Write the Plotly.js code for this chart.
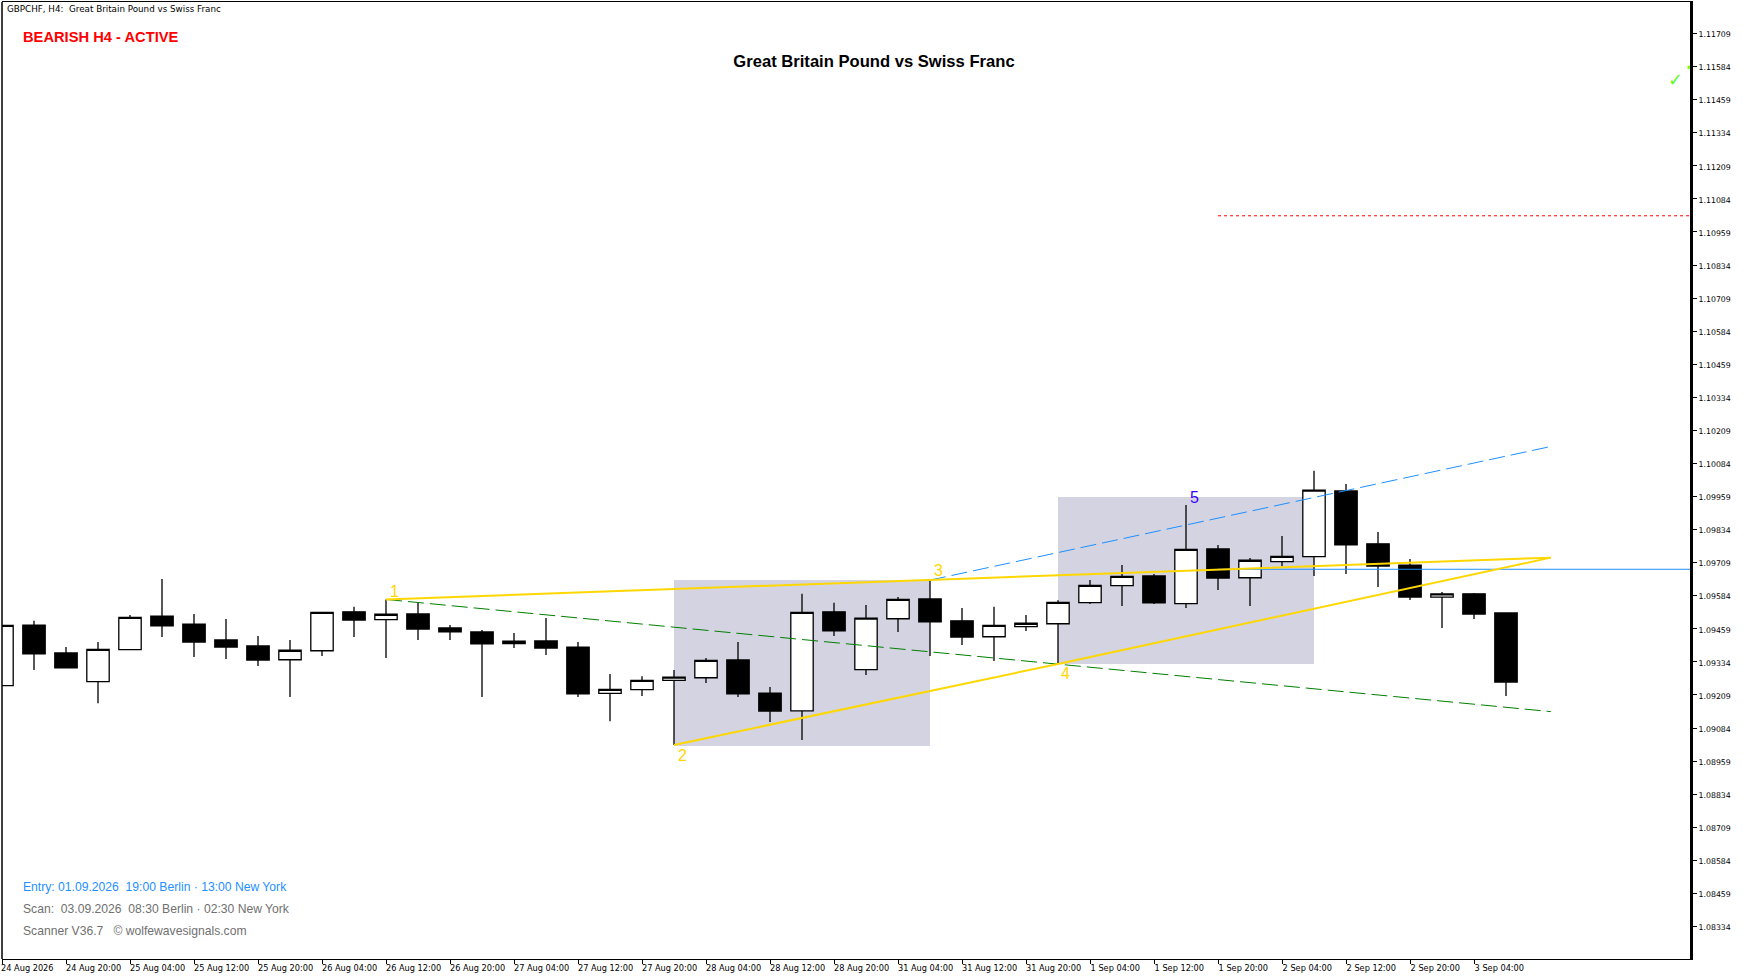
<!DOCTYPE html>
<html>
<head>
<meta charset="utf-8">
<script src="https://cdn.plot.ly/plotly-3.0.1.min.js"></script>
<style>
  html, body { margin: 0; padding: 0; background: #fff; }
  #chart { width: 1743px; height: 980px; }
</style>
</head>
<body>
<div id="chart"></div>
<script>
// Candles
const openPrices = [1.09244, 1.09473, 1.09368, 1.09259, 1.0938, 1.09507, 1.09477, 1.09417, 1.09394, 1.09342, 1.09376, 1.09523,
  1.09494, 1.09515, 1.09462, 1.09447, 1.09403, 1.09413, 1.0939, 1.09215, 1.09229, 1.09264, 1.09274, 1.09341,
  1.09216, 1.09149, 1.09523, 1.09305, 1.09497, 1.09572, 1.09489, 1.09429, 1.09467, 1.09478, 1.09558, 1.09622,
  1.09659, 1.09554, 1.09761, 1.09652, 1.09713, 1.09732, 1.0998, 1.0978, 1.097, 1.09579, 1.09591, 1.09519];
const highPrices = [1.09472, 1.09489, 1.0939, 1.09409, 1.09511, 1.09647, 1.09515, 1.09496, 1.09432, 1.09417, 1.09521, 1.09542,
  1.0957, 1.09557, 1.09473, 1.09454, 1.09443, 1.095, 1.09409, 1.09288, 1.0928, 1.09303, 1.09349, 1.09409,
  1.09239, 1.09591, 1.09557, 1.09549, 1.09579, 1.09643, 1.09538, 1.09542, 1.09511, 1.09567, 1.09643, 1.097,
  1.09666, 1.09927, 1.09776, 1.09727, 1.0981, 1.10056, 1.10006, 1.09825, 1.09723, 1.09598, 1.09594, 1.09519];
const lowPrices = [1.09244, 1.09303, 1.09311, 1.09178, 1.0938, 1.09428, 1.09352, 1.09345, 1.09318, 1.09201, 1.09356, 1.09428,
  1.09349, 1.09417, 1.09417, 1.09201, 1.09386, 1.0936, 1.09201, 1.0911, 1.09205, 1.0902, 1.09254, 1.09201,
  1.09107, 1.09039, 1.09432, 1.09284, 1.09447, 1.09356, 1.09398, 1.09337, 1.09451, 1.09326, 1.09553, 1.09545,
  1.09553, 1.09538, 1.09606, 1.09545, 1.09696, 1.09659, 1.09666, 1.09617, 1.09568, 1.09462, 1.09496, 1.09205];
const closePrices = [1.09472, 1.09364, 1.09311, 1.09381, 1.09502, 1.0947, 1.09409, 1.0939, 1.09341, 1.09378, 1.09521, 1.09492,
  1.09514, 1.09458, 1.09447, 1.09402, 1.09412, 1.09386, 1.09213, 1.0923, 1.09264, 1.09276, 1.0934, 1.09213,
  1.09148, 1.09521, 1.09451, 1.09499, 1.0957, 1.09485, 1.09428, 1.09472, 1.0948, 1.09559, 1.09623, 1.09657,
  1.09557, 1.09759, 1.09651, 1.09718, 1.09733, 1.09983, 1.09776, 1.09696, 1.09579, 1.09591, 1.09515, 1.09258];
const barIndex = openPrices.map((v, i) => i);

// Time axis
const timeLabels = ["24 Aug 2026", "24 Aug 20:00", "25 Aug 04:00", "25 Aug 12:00", "25 Aug 20:00", "26 Aug 04:00",
  "26 Aug 12:00", "26 Aug 20:00", "27 Aug 04:00", "27 Aug 12:00", "27 Aug 20:00", "28 Aug 04:00",
  "28 Aug 12:00", "28 Aug 20:00", "31 Aug 04:00", "31 Aug 12:00", "31 Aug 20:00", "1 Sep 04:00",
  "1 Sep 12:00", "1 Sep 20:00", "2 Sep 04:00", "2 Sep 12:00", "2 Sep 20:00", "3 Sep 04:00"];
const timeTickBars = timeLabels.map((v, i) => i * 2);

// Wolfe wave lines
const upperLineX = [12, 29, 48.4];
const upperLineY = [1.0957, 1.09643, 1.09728];
const lowerLineX = [21, 33, 48.4];
const lowerLineY = [1.0902, 1.09326, 1.09728];
const greenLineX = [12, 48.4];
const greenLineY = [1.0957, 1.09146];
const blueLineX = [29, 48.4];
const blueLineY = [1.09643, 1.10148];
const entryLineX = [38, 52.75];
const entryLineY = [1.09684, 1.09684];
const targetLineX = [38, 52.75];
const targetLineY = [1.1102, 1.1102];
const bidPointX = [52.72];
const bidPointY = [1.11581];

// Shaded boxes
const boxFromBar = [21, 33];
const boxToBar = [29, 41];
const boxLow = [1.09016, 1.09326];
const boxHigh = [1.09643, 1.09957];

// Wave point labels
const waveLabels = ["1", "2", "3", "4", "5"];
const waveLabelX = [12.28, 21.25, 29.25, 33.24, 37.27];
const waveLabelY = [1.09601, 1.08981, 1.09678, 1.0929, 1.09957];
const waveLabelColors = ["#ffd700", "#ffd700", "#ffd700", "#ffd700", "#3a00ff"];

const FONT = "Liberation Sans, Arial, sans-serif";
const TICK_FONT = "DejaVu Sans, sans-serif";
const PLOT_L = 2, PLOT_R = 1690, PLOT_T = 2, PLOT_B = 959;

function paperX(px) {
  return (px - PLOT_L) / (PLOT_R - PLOT_L);
}

function paperY(px) {
  return (PLOT_B - px) / (PLOT_B - PLOT_T);
}

function textNote(text, px, py, size, color, bold, family) {
  return {
    text: bold ? "<b>" + text + "</b>" : text,
    xref: "paper", yref: "paper",
    x: paperX(px), y: paperY(py),
    xanchor: "left", yanchor: "middle",
    showarrow: false,
    font: { family: family || FONT, size: size, color: color },
  };
}

function lineTrace(x, y, color, width, dash) {
  return {
    x: x, y: y, type: "scatter", mode: "lines",
    line: { color: color, width: width, dash: dash || "solid" },
    hoverinfo: "skip",
  };
}

const candles = {
  x: barIndex, open: openPrices, high: highPrices, low: lowPrices, close: closePrices,
  type: "candlestick",
  increasing: { line: { color: "#000", width: 1.3 }, fillcolor: "#fff" },
  decreasing: { line: { color: "#000", width: 1.3 }, fillcolor: "#000" },
  whiskerwidth: 0,
};

const traces = [
  candles,
  lineTrace(greenLineX, greenLineY, "#008000", 1, "16px,6px"),
  lineTrace(blueLineX, blueLineY, "#1e90ff", 1, "16px,6px"),
  lineTrace(entryLineX, entryLineY, "#1e90ff", 1),
  lineTrace(targetLineX, targetLineY, "#ff0000", 1, "3px,3px"),
  lineTrace(upperLineX, upperLineY, "#ffd700", 2),
  lineTrace(lowerLineX, lowerLineY, "#ffd700", 2),
  {
    x: bidPointX, y: bidPointY, type: "scatter", mode: "markers",
    marker: { symbol: "square", size: 3, color: "#7cfc00" },
    cliponaxis: false,
  },
];

const boxShapes = boxFromBar.map((v, i) => ({
  type: "rect", layer: "below", xref: "x", yref: "y",
  x0: v, x1: boxToBar[i], y0: boxLow[i], y1: boxHigh[i],
  fillcolor: "#d3d3e1", line: { width: 0 },
}));

const waveNotes = waveLabels.map((t, i) => ({
  text: t, xref: "x", yref: "y", x: waveLabelX[i], y: waveLabelY[i],
  showarrow: false, font: { family: FONT, size: 16, color: waveLabelColors[i] },
}));

const layout = {
  width: 1743,
  height: 980,
  paper_bgcolor: "#fff",
  plot_bgcolor: "#fff",
  showlegend: false,
  dragmode: false,
  boxgroupgap: 0,
  boxgap: 0.3,
  margin: { l: PLOT_L, r: 1743 - PLOT_R, t: PLOT_T, b: 980 - PLOT_B, pad: 0 },
  font: { family: FONT, size: 9, color: "#000" },
  title: {
    text: "<b>Great Britain Pound vs Swiss Franc</b>",
    x: 874 / 1743, xanchor: "center",
    y: 1 - 61 / 980, yanchor: "middle",
    font: { family: FONT, size: 16.6, color: "#000" },
  },
  xaxis: {
    range: [0, 52.75],
    rangeslider: { visible: false },
    showgrid: false,
    zeroline: false,
    showline: true,
    mirror: true,
    linecolor: "#000",
    linewidth: 1,
    tickmode: "array",
    // labels start at their tick in the original, so push the centre right by half the text
    tickvals: timeTickBars.map((k, i) => k + (timeLabels[i].length * 2.3) / 32),
    ticktext: timeLabels,
    ticks: "",
    tickangle: 0,
    ticklabelstandoff: 1,
    tickfont: { family: TICK_FONT, size: 8.2, color: "#000" },
    minor: { tickmode: "array", tickvals: timeTickBars, ticks: "outside", ticklen: 4, tickcolor: "#000", tickwidth: 1, showgrid: false },
  },
  yaxis: {
    side: "right",
    range: [1.08211, 1.11828],
    tick0: 1.08334,
    dtick: 0.00125,
    tickformat: ".5f",
    showgrid: false,
    zeroline: false,
    showline: true,
    linecolor: "#000",
    linewidth: 3,
    ticks: "outside",
    ticklen: 4,
    tickwidth: 1,
    tickcolor: "#000",
    ticklabelshift: 1,
    tickfont: { family: TICK_FONT, size: 7.8, color: "#000" },
  },
  shapes: boxShapes.concat([
    { type: "line", xref: "paper", yref: "paper", x0: 0, x1: 0, y0: 0, y1: 1, line: { color: "#000", width: 1.5 } },
  ]),
  annotations: waveNotes.concat([
    textNote("GBPCHF, H4:\u00a0\u00a0Great Britain Pound vs Swiss Franc", 4.5, 9.5, 8.75, "#000", false, TICK_FONT),
    textNote("BEARISH H4 - ACTIVE", 21, 36.7, 14.7, "#ff0000", true),
    textNote("Entry: 01.09.2026\u00a0\u00a019:00 Berlin \u00b7 13:00 New York", 21, 886.7, 12.15, "#1e90ff", false),
    textNote("Scan:\u00a0\u00a003.09.2026\u00a0\u00a008:30 Berlin \u00b7 02:30 New York", 21, 908.7, 12.15, "#707070", false),
    textNote("Scanner V36.7\u00a0\u00a0\u00a0\u00a9 wolfewavesignals.com", 21, 930.7, 12.15, "#707070", false),
    textNote("\u2713", 1666, 80, 18, "#5dfc2a", false),
  ]),
};

Plotly.newPlot("chart", traces, layout, { displayModeBar: false, staticPlot: true });
</script>
</body>
</html>
